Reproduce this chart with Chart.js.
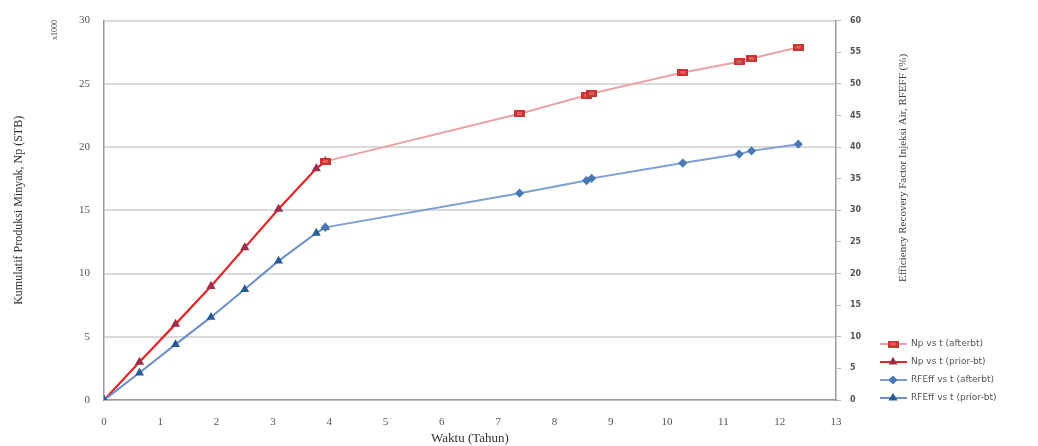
<!DOCTYPE html>
<html>
<head>
<meta charset="utf-8">
<script src="https://cdn.jsdelivr.net/npm/chart.js@4.4.1/dist/chart.umd.min.js"></script>
<style>
  html, body { margin: 0; padding: 0; background: #fff; }
  #wrap { width: 1038px; height: 446px; }
</style>
</head>
<body>
<div id="wrap"><canvas id="chart" width="1038" height="446"></canvas></div>
<script>
// waktu (tahun) dan nilai yang dibaca dari grafik
let tPrior = [0, 0.63, 1.27, 1.9, 2.5, 3.1, 3.77, 3.93];
let npPrior = [0, 3.0, 6.0, 9.0, 12.05, 15.1, 18.3, 18.87];
let rfPrior = [0, 4.3, 8.8, 13.1, 17.5, 22.0, 26.4, 27.3];

let tAfter = [3.93, 7.38, 8.57, 8.66, 10.28, 11.28, 11.5, 12.33];
let npAfter = [18.87, 22.64, 24.1, 24.23, 25.9, 26.74, 27.0, 27.9];
let rfAfter = [27.3, 32.7, 34.7, 35.05, 37.47, 38.9, 39.4, 40.45];

let seriesLabels = ["Np vs t (afterbt)", "Np vs t (prior-bt)", "RFEff vs t (afterbt)", "RFEff vs t (prior-bt)"];

function pairs(xs, ys){
    return xs.map((x, i) => ({x: x, y: ys[i]}));
}

// marker persegi panjang seperti di excel
let redBox = document.createElement("canvas");
redBox.width = 11;
redBox.height = 7;
let bctx = redBox.getContext("2d");
bctx.fillStyle = "#cc3333";
bctx.fillRect(0, 0, 11, 7);
bctx.fillStyle = "#e06060";
bctx.fillRect(3, 2, 5, 3);

// judul sumbu kanan, x1000 dan legenda digambar sendiri
const extras = {
    id: "extras",
    afterDraw(chart){
        let ctx = chart.ctx;
        ctx.save();

        ctx.fillStyle = "#444";
        ctx.textAlign = "center";
        ctx.textBaseline = "middle";

        ctx.save();
        ctx.translate(903, 168);
        ctx.rotate(-Math.PI / 2);
        ctx.font = "11px 'Liberation Serif'";
        ctx.fillText("Efficiency Recovery Factor Injeksi Air, RFEFF (%)", 0, 0);
        ctx.restore();

        ctx.save();
        ctx.translate(55, 30);
        ctx.rotate(-Math.PI / 2);
        ctx.font = "8px 'Liberation Serif'";
        ctx.fillText("x1000", 0, 0);
        ctx.restore();

        let ys = [344, 362, 380, 398];
        chart.data.datasets.forEach((ds, i) => {
            let y = ys[i];
            ctx.strokeStyle = ds.borderColor;
            ctx.lineWidth = 2;
            ctx.beginPath();
            ctx.moveTo(880, y);
            ctx.lineTo(907, y);
            ctx.stroke();
            ctx.fillStyle = ds.pointBackgroundColor;
            ctx.strokeStyle = ds.pointBorderColor;
            Chart.helpers.drawPoint(ctx, {
                pointStyle: ds.pointStyle,
                radius: ds.pointRadius,
                borderWidth: 1
            }, 893, y);
            ctx.fillStyle = "#555";
            ctx.textAlign = "left";
            ctx.font = "9px 'DejaVu Sans'";
            ctx.fillText(ds.label, 911, y);
        });

        ctx.restore();
    }
};

let chart = new Chart(document.getElementById("chart"), {
    type: "line",
    data: {
        datasets: [
            {
                label: seriesLabels[0],
                data: pairs(tAfter, npAfter),
                yAxisID: "y",
                borderColor: "#e8a4a4",
                borderWidth: 2,
                pointStyle: redBox,
                pointRadius: 4,
                pointBackgroundColor: "#cc3333",
                pointBorderColor: "#b82a2a",
                order: 0
            },
            {
                label: seriesLabels[1],
                data: pairs(tPrior, npPrior),
                yAxisID: "y",
                borderColor: "#e02626",
                borderWidth: 2.2,
                pointStyle: "triangle",
                pointRadius: 3.2,
                pointBackgroundColor: "#9c2f4c",
                pointBorderColor: "#9c2f4c",
                order: 3
            },
            {
                label: seriesLabels[2],
                data: pairs(tAfter, rfAfter),
                yAxisID: "y2",
                borderColor: "#7c9fd4",
                borderWidth: 2,
                pointStyle: "rectRot",
                pointRadius: 3.2,
                pointBackgroundColor: "#4a78b4",
                pointBorderColor: "#4a78b4",
                order: 1
            },
            {
                label: seriesLabels[3],
                data: pairs(tPrior, rfPrior),
                yAxisID: "y2",
                borderColor: "#6a8ec6",
                borderWidth: 2,
                pointStyle: "triangle",
                pointRadius: 3.2,
                pointBackgroundColor: "#2b5c96",
                pointBorderColor: "#2b5c96",
                order: 2
            }
        ]
    },
    options: {
        responsive: false,
        animation: false,
        layout: { padding: { top: 12, left: 0, right: 0, bottom: 0 } },
        plugins: {
            legend: { display: false },
            tooltip: { enabled: false }
        },
        scales: {
            x: {
                type: "linear",
                min: 0,
                max: 13,
                ticks: {
                    stepSize: 1,
                    padding: 8,
                    color: "#555",
                    font: { family: "'Liberation Serif'", size: 11 }
                },
                grid: { display: false },
                border: { display: true, color: "#999", width: 1.5 },
                title: {
                    display: true,
                    text: "Waktu (Tahun)",
                    color: "#333",
                    padding: { top: 2, bottom: 0 },
                    font: { family: "'Liberation Serif'", size: 13 }
                },
                afterFit: scale => { scale.height = 46; }
            },
            y: {
                position: "left",
                min: 0,
                max: 30,
                ticks: {
                    stepSize: 5,
                    padding: 14,
                    color: "#555",
                    font: { family: "'Liberation Serif'", size: 11 }
                },
                grid: { color: "#dadada", lineWidth: 2, drawTicks: false },
                border: { display: true, color: "#999", width: 1.5 },
                title: {
                    display: true,
                    text: "Kumulatif Produksi Minyak, Np (STB)",
                    color: "#333",
                    padding: { top: 12, bottom: 0 },
                    font: { family: "'Liberation Serif'", size: 12 }
                },
                afterFit: scale => { scale.width = 104; }
            },
            y2: {
                position: "right",
                min: 0,
                max: 60,
                ticks: {
                    stepSize: 5,
                    padding: 9,
                    color: "#555",
                    font: { family: "'DejaVu Sans'", size: 8, weight: "bold" }
                },
                grid: { drawOnChartArea: false, drawTicks: true, tickLength: 5, color: "#bbb" },
                border: { display: true, color: "#999", width: 1.5 },
                afterFit: scale => { scale.width = 202; }
            }
        }
    },
    plugins: [extras]
});
</script>
</body>
</html>
